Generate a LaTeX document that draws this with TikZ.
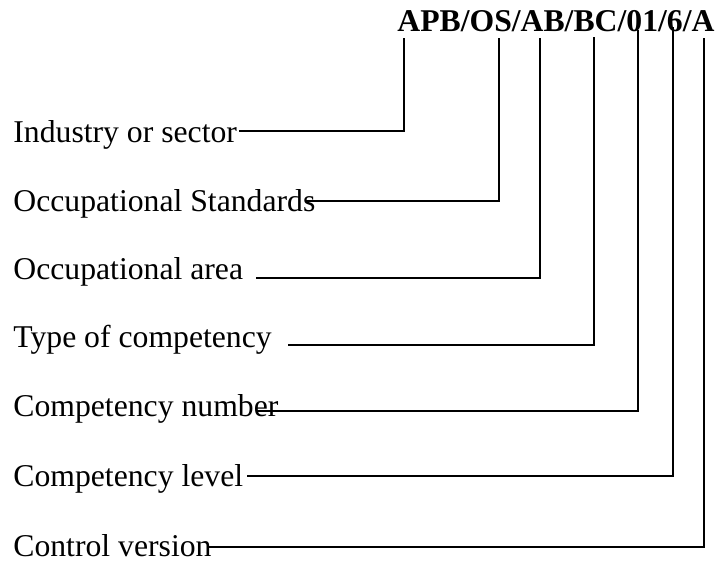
\documentclass[tikz,border=0pt]{standalone}
\usepackage{fontspec}
\setmainfont{Liberation Serif}

\begin{document}
\begin{tikzpicture}[
  x=0.5pt, y=-0.5pt,
  field/.style={anchor=base west,inner sep=0pt,font=\fontsize{15.85}{19}\selectfont},
  codeline/.style={field,font=\fontsize{15.85}{19}\selectfont\bfseries},
  lead/.style={line width=0.9pt}
]
  \useasboundingbox (0,0) rectangle (719,565);

  \node[codeline] (code) at (397,32) {APB/OS/AB/BC/01/6/A};

  \node[field] (sector) at (13,143) {Industry or sector};
  \node[field] (standards) at (13,212) {Occupational Standards};
  \node[field] (area) at (13,280) {Occupational area};
  \node[field] (type) at (13,348) {Type of competency};
  \node[field] (number) at (13,417) {Competency number};
  \node[field] (level) at (13,487) {Competency level};
  \node[field] (version) at (13,557) {Control version};

  % where the leads start
  \coordinate (sector-in) at (239,131);
  \coordinate (standards-in) at (305,201);
  \coordinate (area-in) at (256,278);
  \coordinate (type-in) at (288,345);
  \coordinate (number-in) at (257,411);
  \coordinate (level-in) at (247,476);
  \coordinate (version-in) at (208,547);

  % under the code
  \coordinate (apb) at (404,38);
  \coordinate (os) at (499,38);
  \coordinate (ab) at (540,38);
  \coordinate (bc) at (594,37);
  \coordinate (nr) at (638,30);
  \coordinate (lv) at (673,27);
  \coordinate (cv) at (704,38);

  \draw[lead] (sector-in) -| (apb);
  \draw[lead] (standards-in) -| (os);
  \draw[lead] (area-in) -| (ab);
  \draw[lead] (type-in) -| (bc);
  \draw[lead] (number-in) -| (nr);
  \draw[lead] (level-in) -| (lv);
  \draw[lead] (version-in) -| (cv);
\end{tikzpicture}
\end{document}
